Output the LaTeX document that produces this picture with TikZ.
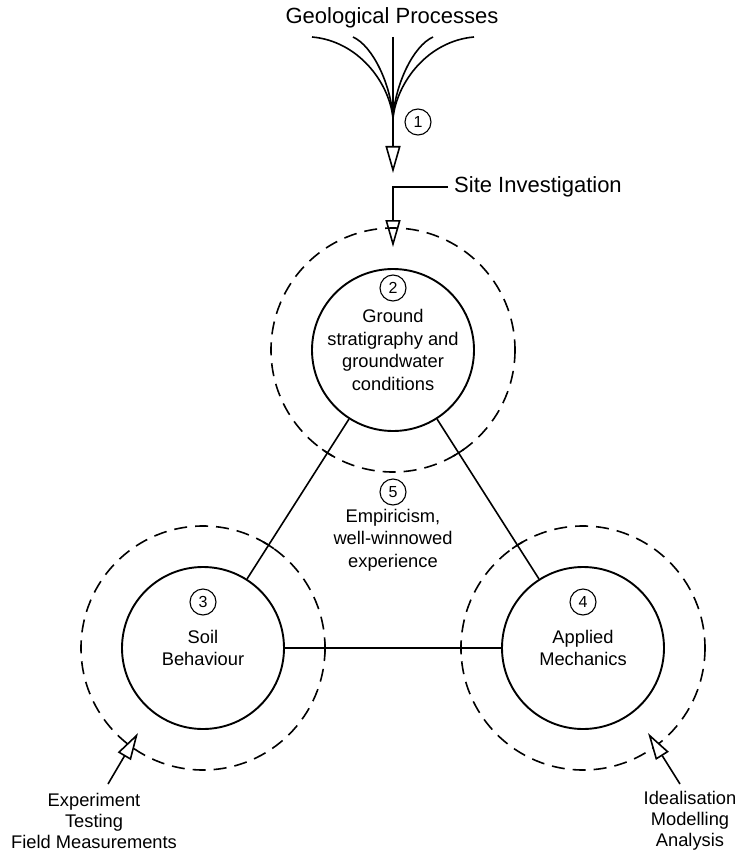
\documentclass[tikz,border=0pt]{standalone}
\usepackage{fontspec}
\setmainfont{Liberation Sans}
\usetikzlibrary{positioning,calc,arrows.meta}

\begin{document}
\begin{tikzpicture}[x=1pt, y=-1pt,
        every node/.style={font=\fontsize{18.3}{22.5}\selectfont},
        zone/.style={circle, draw, line width=1.9pt, minimum size=162pt, inner sep=0pt},
        ring/.style={line width=1.6pt, dash pattern=on 13pt off 8pt},
        num/.style={circle, draw, line width=1.1pt, minimum size=26pt, inner sep=0pt, font=\fontsize{16}{16}\selectfont},
        link/.style={line width=1.6pt},
        feed/.style={line width=1.6pt, -{Triangle[length=27pt, width=15pt, fill=white]}},
        txt/.style={align=center, inner sep=0pt}]
            \useasboundingbox (0,0) rectangle (738,853);

            % geological processes
            \node (geo) [font=\fontsize{22}{26}\selectfont] at (392,18) {Geological Processes};
            \coordinate (g1) at (312,37);
            \coordinate (g2) at (353,37);
            \coordinate (g3) at (393,37);
            \coordinate (g4) at (433,37);
            \coordinate (g5) at (474,37);
            \coordinate (fanend) at (393,118);
            \coordinate (tip1) at (393,173);
            \draw [link] (g1) .. controls (358,41) and (389,82) .. (fanend);
            \draw [link] (g2) .. controls (373,46) and (391,85) .. (fanend);
            \draw [link] (g4) .. controls (413,46) and (395,85) .. (fanend);
            \draw [link] (g5) .. controls (428,41) and (397,82) .. (fanend);
            \draw [feed] (g3) -- (tip1);
            \node (n1) [num] at (418,122) {1};

            % site investigation
            \node (site) [anchor=west, inner xsep=6pt, font=\fontsize{22}{26}\selectfont] at (448,187) {Site Investigation};
            \coordinate (sitetip) at (393,247);
            \draw [feed] (site.west) -| (sitetip);

            % the three corners
            \node (ground) [zone] at (393,350) {};
            \node (soil) [zone] at (203,648) {};
            \node (mech) [zone] at (583,648) {};

            \draw [ring] (ground.center) circle [radius=122];
            \draw [ring] (soil.center) circle [radius=122];
            \draw [ring] (mech.center) circle [radius=122];

            \node (groundtxt) [txt] at (ground) {Ground\\stratigraphy and\\groundwater\\conditions};
            \node (n2) [num] at ($(ground)+(0,-62)$) {2};
            \node (soiltxt) [txt] at (soil) {Soil\\Behaviour};
            \node (n3) [num] at ($(soil)+(0,-46)$) {3};
            \node (mechtxt) [txt] at (mech) {Applied\\Mechanics};
            \node (n4) [num] at ($(mech)+(0,-46)$) {4};

            \draw [link] (ground) -- (soil);
            \draw [link] (ground) -- (mech);
            \draw [link] (soil) -- (mech);

            % dashes where the links cross the rings
            \foreach \a in {57.5,122.5}
                \draw [link] (ground.center) ++(\a-3:122) arc [start angle=\a-3, end angle=\a+3, radius=122];
            \foreach \a in {0,302.5}
                \draw [link] (soil.center) ++(\a-3:122) arc [start angle=\a-3, end angle=\a+3, radius=122];
            \foreach \a in {180,237.5}
                \draw [link] (mech.center) ++(\a-3:122) arc [start angle=\a-3, end angle=\a+3, radius=122];

            % empiricism
            \node (emp) [txt] at (393,540) {Empiricism,\\well-winnowed\\experience};
            \node (n5) [num] at (393,492) {5};

            % experiment and idealisation
            \node (exp) [txt, font=\fontsize{18.3}{21}\selectfont] at (94,821) {Experiment\\Testing\\Field Measurements};
            \coordinate (exptail) at (108,784);
            \coordinate (exptip) at (138,733);
            \draw [feed] (exptail) -- (exptip);

            \node (ideal) [txt, font=\fontsize{18.3}{21}\selectfont] at (690,821) {Idealisation\\Modelling\\Analysis};
            \coordinate (idealtail) at (680,784);
            \coordinate (idealtip) at (648,733);
            \draw [feed] (idealtail) -- (idealtip);
        \end{tikzpicture}
\end{document}
